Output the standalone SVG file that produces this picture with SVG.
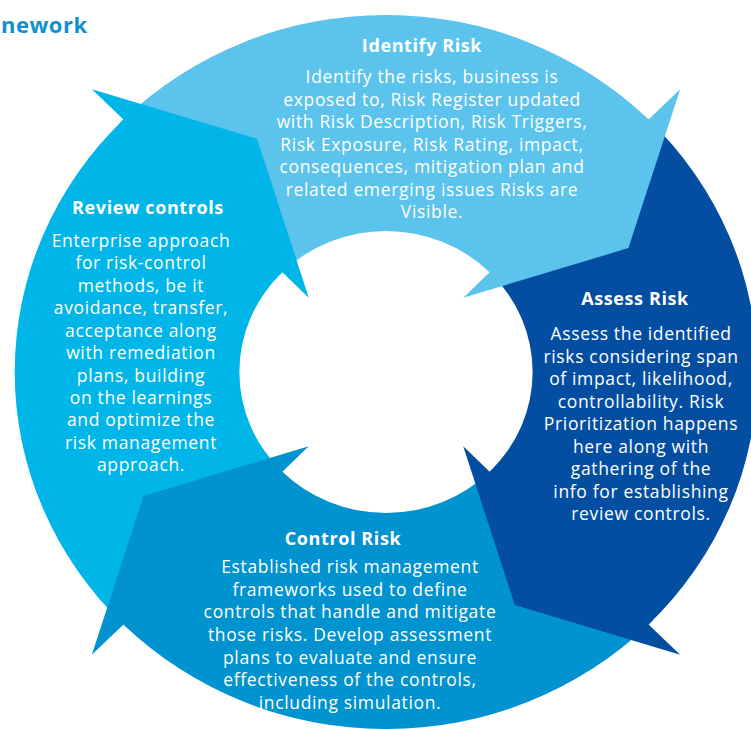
<svg xmlns="http://www.w3.org/2000/svg" width="751" height="729" viewBox="0 0 751 729">
<style>
.body{font-family:"Open Sans","Noto Sans","DejaVu Sans",sans-serif;font-size:17.5px;letter-spacing:0.65px;fill:#ffffff;text-anchor:middle}
.head{font-family:"Open Sans","Noto Sans","DejaVu Sans",sans-serif;font-size:18px;letter-spacing:0.6px;font-weight:bold;fill:#ffffff;text-anchor:middle}
.c1{fill:#5bc3ec}.c2{fill:#034ea1}.c3{fill:#0093d0}.c4{fill:#00b6e8}
</style>
<rect width="751" height="729" fill="#ffffff"/>
<text x="1" y="33" font-family="Open Sans, sans-serif" font-size="22" letter-spacing="0.5" font-weight="bold" fill="#1190d1">nework</text>
<g id="node-identify">
<path class="c1" transform="translate(386,372) scale(1.04,1)" d="M-252.44,-252.44 A357,357 0 0 1 252.44,-252.44 L99.7,-99.7 A141,141 0 0 0 -99.7,-99.7 Z"/>
</g>
<g id="node-assess">
<path class="c2" transform="translate(386,372) scale(1.04,1)" d="M252.44,-252.44 A357,357 0 0 1 252.44,252.44 L99.7,99.7 A141,141 0 0 0 99.7,-99.7 Z"/>
</g>
<g id="node-control">
<path class="c3" transform="translate(386,372) scale(1.04,1)" d="M252.44,252.44 A357,357 0 0 1 -252.44,252.44 L-99.7,99.7 A141,141 0 0 0 99.7,99.7 Z"/>
</g>
<g id="node-review">
<path class="c4" transform="translate(386,372) scale(1.04,1)" d="M-252.44,252.44 A357,357 0 0 1 -252.44,-252.44 L-99.7,-99.7 A141,141 0 0 0 -99.7,99.7 Z"/>
</g>
<g id="connectors" transform="translate(386,372) scale(1.04,1)">
<path class="c1" d="M282.84,-282.84 L233.1,-123.9 L74.25,-74.25 L99.7,-99.7 L97.95,-101.43 L248.0,-256.8 L252.44,-252.44 Z"/>
<path class="c2" d="M282.84,282.84 L123.9,233.1 L74.25,74.25 L99.7,99.7 L101.43,97.95 L256.8,248.0 L252.44,252.44 Z"/>
<path class="c3" d="M-282.84,282.84 L-233.1,123.9 L-74.25,74.25 L-99.7,99.7 L-97.95,101.43 L-248.0,256.8 L-252.44,252.44 Z"/>
<path class="c4" d="M-282.84,-282.84 L-123.9,-233.1 L-74.25,-74.25 L-99.7,-99.7 L-101.43,-97.95 L-256.8,-248.0 L-252.44,-252.44 Z"/>
</g>
<g id="labels-identify">
<text class="head" x="422" y="52">Identify Risk</text>
<text class="body" x="432" y="83">Identify the risks, business is</text>
<text class="body" x="432" y="106">exposed to, Risk Register updated</text>
<text class="body" x="432" y="128">with Risk Description, Risk Triggers,</text>
<text class="body" x="432" y="151">Risk Exposure, Risk Rating, impact,</text>
<text class="body" x="432" y="173">consequences, mitigation plan and</text>
<text class="body" x="432" y="196">related emerging issues Risks are</text>
<text class="body" x="432" y="218">Visible.</text>
</g>
<g id="labels-assess">
<text class="head" x="635" y="305">Assess Risk</text>
<text class="body" x="641" y="340">Assess the identified</text>
<text class="body" x="641" y="363">risks considering span</text>
<text class="body" x="641" y="385">of impact, likelihood,</text>
<text class="body" x="641" y="408">controllability. Risk</text>
<text class="body" x="641" y="430">Prioritization happens</text>
<text class="body" x="641" y="453">here along with</text>
<text class="body" x="641" y="475">gathering of the</text>
<text class="body" x="641" y="498">info for establishing</text>
<text class="body" x="641" y="520">review controls.</text>
</g>
<g id="labels-control">
<text class="head" x="343" y="545">Control Risk</text>
<text class="body" x="350" y="573">Established risk management</text>
<text class="body" x="350" y="596">frameworks used to define</text>
<text class="body" x="350" y="618">controls that handle and mitigate</text>
<text class="body" x="350" y="641">those risks. Develop assessment</text>
<text class="body" x="350" y="664">plans to evaluate and ensure</text>
<text class="body" x="350" y="686">effectiveness of the controls,</text>
<text class="body" x="350" y="709">including simulation.</text>
</g>
<g id="labels-review">
<text class="head" x="148" y="214">Review controls</text>
<text class="body" x="141" y="247">Enterprise approach</text>
<text class="body" x="141" y="269">for risk-control</text>
<text class="body" x="141" y="292">methods, be it</text>
<text class="body" x="141" y="314">avoidance, transfer,</text>
<text class="body" x="141" y="337">acceptance along</text>
<text class="body" x="141" y="359">with remediation</text>
<text class="body" x="141" y="382">plans, building</text>
<text class="body" x="141" y="404">on the learnings</text>
<text class="body" x="141" y="426">and optimize the</text>
<text class="body" x="141" y="449">risk management</text>
<text class="body" x="141" y="471">approach.</text>
</g>
</svg>
